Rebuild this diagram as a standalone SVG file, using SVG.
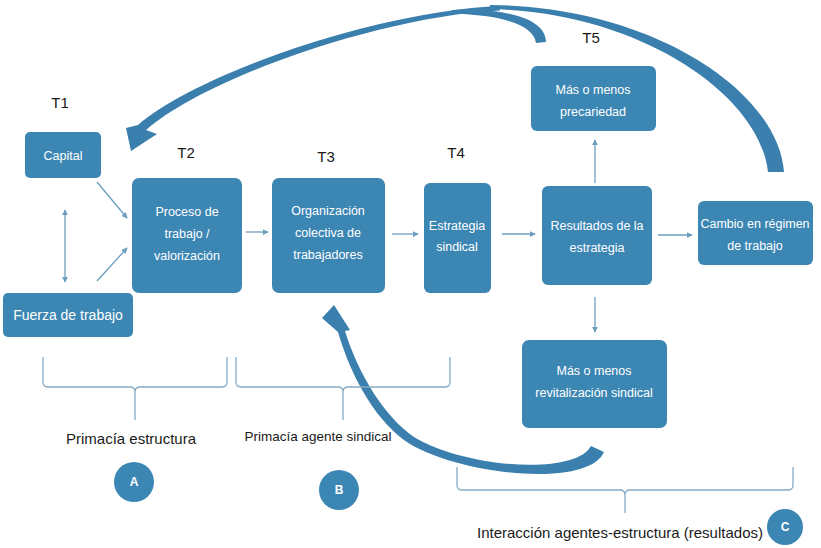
<svg xmlns="http://www.w3.org/2000/svg" width="821" height="548" viewBox="0 0 821 548">
<defs>
<style>
.box{fill:#3C86B4;}
.bt{fill:#ffffff;font-family:"Liberation Sans",Arial,sans-serif;font-size:12.5px;text-anchor:middle;}
.lbl{fill:#1a1a1a;font-family:"Liberation Sans",Arial,sans-serif;font-size:15px;text-anchor:middle;}
.tl{fill:#1a1a1a;font-family:"Liberation Sans",Arial,sans-serif;font-size:15px;text-anchor:middle;}
.thin{stroke:#6C9EBE;stroke-width:1.3;fill:none;marker-end:url(#ah);}
.br{stroke:#86AAC4;stroke-width:1.3;fill:none;}
.big{fill:#3A7FAD;}
.circ{fill:#3C86B4;}
.ct{fill:#ffffff;font-family:"Liberation Sans",Arial,sans-serif;font-size:12px;font-weight:bold;text-anchor:middle;}
</style>
<marker id="ah" viewBox="0 0 8 8" refX="7" refY="4" markerWidth="6" markerHeight="6" markerUnits="userSpaceOnUse" orient="auto-start-reverse">
<path d="M0,0 L8,4 L0,8 z" fill="#6C9EBE"/>
</marker>
</defs>
<rect width="821" height="548" fill="#ffffff"/>

<g id="time-labels">
<text class="tl" x="60" y="108">T1</text>
<text class="tl" x="186" y="158">T2</text>
<text class="tl" x="326" y="162">T3</text>
<text class="tl" x="456" y="158">T4</text>
<text class="tl" x="591" y="43">T5</text>
</g>

<g id="connectors">
<path class="thin" d="M97,182 L127,218"/>
<path class="thin" d="M97,281 L127,248"/>
<path class="thin" d="M65,210 L65,282" style="marker-start:url(#ah)"/>
<path class="thin" d="M246,232 L268,232"/>
<path class="thin" d="M392,234 L418,234"/>
<path class="thin" d="M502,234 L535,234"/>
<path class="thin" d="M658,235 L692,235"/>
<path class="thin" d="M595,183 L595,140"/>
<path class="thin" d="M595,297 L595,332"/>
<path class="big" d="M784,172 C778,90 650,6 490,5 L490,9 C640,12 760,95 768,172 Z"/>
<path class="big" d="M500,6 C380,11 200,72 138,125 L126,128 L131,151 L157,134 L146,130 C205,78 382,16 500,10.5 Z"/>
<path class="big" d="M452,10 C505,8 546,18 546,42 L536,43 C534,26 505,15 452,13.5 Z"/>
<path class="big" d="M604,452 C588,488 465,476 410,444 C378,424 352,380 338,332 L322,318 L334,305 L350,330 L345,331 C359,376 385,417 414,437 C465,468 575,476 591,446 Z"/>
</g>

<g id="brackets">
<path class="br" d="M43,357 L43,382 Q43,387 48,387 L130,387 Q135,387 135,392 L135,420 M135,392 Q135,387 140,387 L222,387 Q227,387 227,382 L227,357"/>
<path class="br" d="M236,357 L236,382 Q236,387 241,387 L338,387 Q343,387 343,392 L343,420 M343,392 Q343,387 348,387 L445,387 Q450,387 450,382 L450,357"/>
<path class="br" d="M457,467 L457,485 Q457,490 462,490 L620,490 Q625,490 625,495 L625,513 M625,495 Q625,490 630,490 L788,490 Q793,490 793,485 L793,467"/>
</g>

<g id="capital">
<rect class="box" x="25" y="132" width="76" height="46" rx="5"/>
<text class="bt" x="63" y="160">Capital</text>
</g>
<g id="fuerza">
<rect class="box" x="3" y="293" width="130" height="44" rx="5"/>
<text class="bt" x="68" y="320" style="font-size:14px">Fuerza de trabajo</text>
</g>
<g id="proceso">
<rect class="box" x="132" y="178" width="110" height="115" rx="7"/>
<text class="bt" x="187" y="216">Proceso de</text>
<text class="bt" x="187" y="238">trabajo /</text>
<text class="bt" x="187" y="260">valorización</text>
</g>
<g id="organizacion">
<rect class="box" x="272" y="178" width="113" height="115" rx="7"/>
<text class="bt" x="328" y="215">Organización</text>
<text class="bt" x="328" y="237">colectiva de</text>
<text class="bt" x="328" y="259">trabajadores</text>
</g>
<g id="estrategia">
<rect class="box" x="424" y="183" width="67" height="110" rx="6"/>
<text class="bt" x="457" y="230">Estrategia</text>
<text class="bt" x="457" y="251">sindical</text>
</g>
<g id="resultados">
<rect class="box" x="542" y="186" width="110" height="99" rx="6"/>
<text class="bt" x="597" y="230">Resultados de la</text>
<text class="bt" x="597" y="252">estrategia</text>
</g>
<g id="cambio">
<rect class="box" x="698" y="201" width="115" height="64" rx="6"/>
<text class="bt" x="755" y="228">Cambio en régimen</text>
<text class="bt" x="755" y="250">de trabajo</text>
</g>
<g id="precariedad">
<rect class="box" x="531" y="66" width="125" height="65" rx="6"/>
<text class="bt" x="593" y="94">Más o menos</text>
<text class="bt" x="593" y="116">precariedad</text>
</g>
<g id="revitalizacion">
<rect class="box" x="522" y="340" width="145" height="88" rx="7"/>
<text class="bt" x="594" y="375">Más o menos</text>
<text class="bt" x="594" y="397">revitalización sindical</text>
</g>

<g id="labels">
<text class="lbl" x="131" y="444">Primacía estructura</text>
<text class="lbl" x="318" y="441" style="font-size:13.5px">Primacía agente sindical</text>
<text class="lbl" x="620" y="538">Interacción agentes-estructura (resultados)</text>
</g>

<g id="circle-a">
<circle class="circ" cx="134" cy="482" r="20"/>
<text class="ct" x="134" y="486">A</text>
</g>
<g id="circle-b">
<circle class="circ" cx="339" cy="490" r="20"/>
<text class="ct" x="339" y="494">B</text>
</g>
<g id="circle-c">
<circle class="circ" cx="785" cy="527" r="18"/>
<text class="ct" x="785" y="531">C</text>
</g>
</svg>
